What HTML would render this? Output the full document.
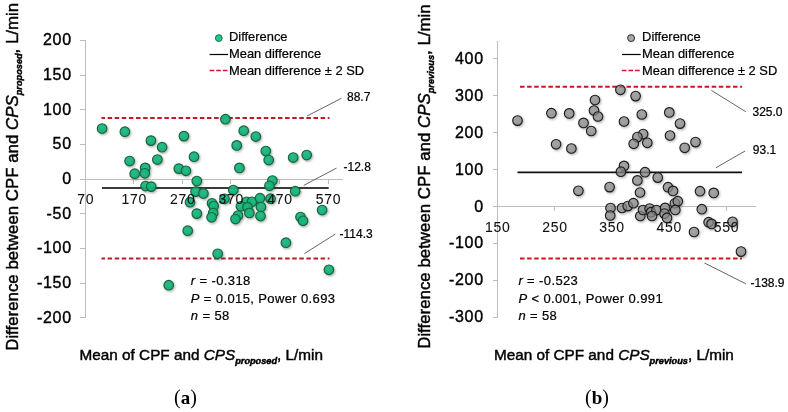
<!DOCTYPE html>
<html><head><meta charset="utf-8"><style>
html,body{margin:0;padding:0;background:#fff;}
body{width:788px;height:412px;overflow:hidden;}
svg{display:block;filter:blur(0.35px);}
text{font-family:"Liberation Sans",sans-serif;fill:#000;stroke:#000;stroke-width:0.22px;}
.serif{font-family:"Liberation Serif",serif;}
text.serif{stroke:none;}
text.t{stroke-width:0.45px;}
.yl text{stroke-width:0.4px;}
.xl text{fill:#111;stroke:#111;stroke-width:0.08px;}
</style></head><body>
<svg width="788" height="412" viewBox="0 0 788 412">
<defs>
<filter id="sh" x="-50%" y="-50%" width="200%" height="200%">
<feDropShadow dx="1" dy="1.2" stdDeviation="0.8" flood-color="#000" flood-opacity="0.35"/>
</filter>
<radialGradient id="gg" cx="0.45" cy="0.4" r="0.6"><stop offset="0" stop-color="#18bb86"/><stop offset="1" stop-color="#0faa74"/></radialGradient>
<radialGradient id="gr" cx="0.45" cy="0.4" r="0.6"><stop offset="0" stop-color="#909090"/><stop offset="1" stop-color="#7c7c7c"/></radialGradient>
</defs>

<g stroke="#bdbdbd" stroke-width="1" fill="none" shape-rendering="crispEdges">
<line x1="85.5" y1="40.5" x2="85.5" y2="318"/>
<line x1="80" y1="40.5" x2="85.5" y2="40.5"/>
<line x1="80" y1="75.5" x2="85.5" y2="75.5"/>
<line x1="80" y1="109.5" x2="85.5" y2="109.5"/>
<line x1="80" y1="144.5" x2="85.5" y2="144.5"/>
<line x1="80" y1="179.5" x2="85.5" y2="179.5"/>
<line x1="80" y1="213.5" x2="85.5" y2="213.5"/>
<line x1="80" y1="248.5" x2="85.5" y2="248.5"/>
<line x1="80" y1="283.5" x2="85.5" y2="283.5"/>
<line x1="80" y1="317.5" x2="85.5" y2="317.5"/>
<line x1="80" y1="179.5" x2="342.5" y2="179.5"/>
<line x1="133.5" y1="179.5" x2="133.5" y2="184"/>
<line x1="182.5" y1="179.5" x2="182.5" y2="184"/>
<line x1="230.5" y1="179.5" x2="230.5" y2="184"/>
<line x1="279.5" y1="179.5" x2="279.5" y2="184"/>
<line x1="328.5" y1="179.5" x2="328.5" y2="184"/>
</g>
<g font-size="16" text-anchor="end" letter-spacing="0.7" class="yl">
<text x="71.8" y="45.4">200</text>
<text x="71.8" y="80.1">150</text>
<text x="71.8" y="114.8">100</text>
<text x="71.8" y="149.4">50</text>
<text x="71.8" y="184.1">0</text>
<text x="71.8" y="218.8">-50</text>
<text x="71.8" y="253.4">-100</text>
<text x="71.8" y="288.1">-150</text>
<text x="71.8" y="322.8">-200</text>
</g>
<line x1="101.5" y1="117.9" x2="329.5" y2="117.9" stroke="#c01a28" stroke-width="2" stroke-dasharray="4.5 2.6" stroke-dashoffset="1"/>
<line x1="101.5" y1="258.6" x2="329.5" y2="258.6" stroke="#c01a28" stroke-width="2" stroke-dasharray="4.5 2.6" stroke-dashoffset="1"/>
<line x1="102" y1="187.9" x2="328.7" y2="187.9" stroke="#3a3a3a" stroke-width="2"/>
<g filter="url(#sh)" fill="url(#gg)" fill-opacity="0.92" stroke="#1b6238" stroke-width="1.15">
<circle cx="102.1" cy="128.5" r="4.8"/>
<circle cx="124.9" cy="131.7" r="4.8"/>
<circle cx="150.9" cy="140.6" r="4.8"/>
<circle cx="162.1" cy="147.2" r="4.8"/>
<circle cx="183.9" cy="136.1" r="4.8"/>
<circle cx="129.6" cy="161" r="4.8"/>
<circle cx="157.4" cy="159.5" r="4.8"/>
<circle cx="225.4" cy="119.2" r="4.8"/>
<circle cx="243.7" cy="130.7" r="4.8"/>
<circle cx="255.8" cy="136.5" r="4.8"/>
<circle cx="236.7" cy="145.4" r="4.8"/>
<circle cx="265.8" cy="151" r="4.8"/>
<circle cx="268.7" cy="160" r="4.8"/>
<circle cx="194" cy="156.7" r="4.8"/>
<circle cx="293.2" cy="157.5" r="4.8"/>
<circle cx="306.7" cy="155" r="4.8"/>
<circle cx="145.2" cy="167.9" r="4.8"/>
<circle cx="134.7" cy="173.7" r="4.8"/>
<circle cx="144.8" cy="173.3" r="4.8"/>
<circle cx="178.8" cy="168.6" r="4.8"/>
<circle cx="185.9" cy="170.8" r="4.8"/>
<circle cx="145.6" cy="186" r="4.8"/>
<circle cx="151.2" cy="186.6" r="4.8"/>
<circle cx="196.8" cy="181" r="4.8"/>
<circle cx="239.4" cy="167.9" r="4.8"/>
<circle cx="272.4" cy="180.5" r="4.8"/>
<circle cx="269.5" cy="185.8" r="4.8"/>
<circle cx="195.6" cy="191.6" r="4.8"/>
<circle cx="203.4" cy="193.5" r="4.8"/>
<circle cx="190" cy="202.2" r="4.8"/>
<circle cx="233.3" cy="190" r="4.8"/>
<circle cx="224.5" cy="198.8" r="4.8"/>
<circle cx="212" cy="203.3" r="4.8"/>
<circle cx="213.7" cy="206" r="4.8"/>
<circle cx="196.8" cy="213.6" r="4.8"/>
<circle cx="246.5" cy="201.8" r="4.8"/>
<circle cx="252" cy="201.8" r="4.8"/>
<circle cx="260" cy="198.2" r="4.8"/>
<circle cx="270.5" cy="198.7" r="4.8"/>
<circle cx="261" cy="207" r="4.8"/>
<circle cx="240.9" cy="206.3" r="4.8"/>
<circle cx="247.5" cy="207.2" r="4.8"/>
<circle cx="213.2" cy="213" r="4.8"/>
<circle cx="211.6" cy="217.3" r="4.8"/>
<circle cx="238" cy="215.5" r="4.8"/>
<circle cx="235.5" cy="219" r="4.8"/>
<circle cx="249.4" cy="212.9" r="4.8"/>
<circle cx="260.5" cy="216" r="4.8"/>
<circle cx="295.2" cy="191.2" r="4.8"/>
<circle cx="322.1" cy="210" r="4.8"/>
<circle cx="300.5" cy="217" r="4.8"/>
<circle cx="303" cy="220.8" r="4.8"/>
<circle cx="285.9" cy="242.7" r="4.8"/>
<circle cx="187.7" cy="230.7" r="4.8"/>
<circle cx="217.7" cy="253.8" r="4.8"/>
<circle cx="168.7" cy="285.2" r="4.8"/>
<circle cx="328.9" cy="269.8" r="4.8"/>
</g>
<g font-size="14" text-anchor="middle" letter-spacing="0.7" class="xl">
<text x="85.7" y="203.5">70</text>
<text x="134.2" y="203.5">170</text>
<text x="182.8" y="203.5">270</text>
<text x="231.3" y="203.5">370</text>
<text x="279.9" y="203.5">470</text>
<text x="328.4" y="203.5">570</text>
</g>
<g stroke="#555" stroke-width="0.9">
<line x1="307.1" y1="116" x2="341.6" y2="98.2"/>
<line x1="303.7" y1="185.4" x2="336.5" y2="168.1"/>
<line x1="304.4" y1="253.6" x2="335.3" y2="234.1"/>
</g>
<g font-size="12">
<text x="347" y="101.2">88.7</text>
<text x="343.5" y="170.6">-12.8</text>
<text x="339.5" y="237.9">-114.3</text>
</g>
<circle cx="218.8" cy="38.1" r="3.4" fill="#1fca8f" stroke="#1b6238" stroke-width="0.9"/>
<line x1="209.6" y1="54.5" x2="228.1" y2="54.5" stroke="#000" stroke-width="1.2"/>
<line x1="209.6" y1="70.4" x2="228.1" y2="70.4" stroke="#d8142e" stroke-width="1.5" stroke-dasharray="4.7 1.9"/>
<g font-size="12.9">
<text x="229" y="41.4">Difference</text>
<text x="229" y="58.4">Mean difference</text>
<text x="229" y="74.8">Mean difference ± 2 SD</text>
</g>
<g font-size="13" letter-spacing="0.38">
<text x="190.8" y="285.2"><tspan font-style="italic">r</tspan> = -0.318</text>
<text x="190.8" y="302.6"><tspan font-style="italic">P</tspan> = 0.015, Power 0.693</text>
<text x="190.8" y="320.3"><tspan font-style="italic">n</tspan> = 58</text>
</g>
<text class="t" x="79.6" y="359.8" font-size="15.3">Mean of CPF and <tspan font-style="italic">CPS</tspan><tspan font-size="9.2" font-weight="bold" font-style="italic" dy="3.9">proposed</tspan><tspan dy="-3.9">, L/min</tspan></text>
<text class="t" transform="translate(18,350.8) rotate(-90)" font-size="16.88">Difference between CPF and <tspan font-style="italic">CPS</tspan><tspan font-size="9.2" font-weight="bold" font-style="italic" dy="3.6">proposed</tspan><tspan dy="-3.6">, L/min</tspan></text>
<text class="serif" x="174" y="403.6" font-size="20">(<tspan font-weight="bold" font-size="19">a</tspan>)</text>
<g stroke="#bdbdbd" stroke-width="1" fill="none" shape-rendering="crispEdges">
<line x1="497.5" y1="40.5" x2="497.5" y2="318"/>
<line x1="492.5" y1="58.5" x2="497.5" y2="58.5"/>
<line x1="492.5" y1="95.5" x2="497.5" y2="95.5"/>
<line x1="492.5" y1="132.5" x2="497.5" y2="132.5"/>
<line x1="492.5" y1="169.5" x2="497.5" y2="169.5"/>
<line x1="492.5" y1="206.5" x2="497.5" y2="206.5"/>
<line x1="492.5" y1="243.5" x2="497.5" y2="243.5"/>
<line x1="492.5" y1="280.5" x2="497.5" y2="280.5"/>
<line x1="492.5" y1="317.5" x2="497.5" y2="317.5"/>
<line x1="492.5" y1="206.5" x2="755.5" y2="206.5"/>
<line x1="554.5" y1="206.5" x2="554.5" y2="211"/>
<line x1="611.5" y1="206.5" x2="611.5" y2="211"/>
<line x1="668.5" y1="206.5" x2="668.5" y2="211"/>
<line x1="726.5" y1="206.5" x2="726.5" y2="211"/>
</g>
<g font-size="16" text-anchor="end" letter-spacing="0.7" class="yl">
<text x="483.8" y="63.7">400</text>
<text x="483.8" y="100.6">300</text>
<text x="483.8" y="137.6">200</text>
<text x="483.8" y="174.6">100</text>
<text x="483.8" y="211.5">0</text>
<text x="483.8" y="248.4">-100</text>
<text x="483.8" y="285.4">-200</text>
<text x="483.8" y="322.3">-300</text>
</g>
<line x1="520" y1="86.8" x2="742" y2="86.8" stroke="#d0141c" stroke-width="2" stroke-dasharray="4.5 2.6"/>
<line x1="520" y1="258.4" x2="742" y2="258.4" stroke="#d0141c" stroke-width="2" stroke-dasharray="4.5 2.6"/>
<line x1="517.5" y1="172.4" x2="742" y2="172.4" stroke="#111" stroke-width="1.6"/>
<g filter="url(#sh)" fill="url(#gr)" fill-opacity="0.7" stroke="#1a1a1a" stroke-width="1.1">
<circle cx="517.5" cy="120.6" r="4.8"/>
<circle cx="551.4" cy="113.2" r="4.8"/>
<circle cx="569.2" cy="113.4" r="4.8"/>
<circle cx="595" cy="100" r="4.8"/>
<circle cx="594" cy="110.5" r="4.8"/>
<circle cx="598" cy="116.5" r="4.8"/>
<circle cx="583.5" cy="122.9" r="4.8"/>
<circle cx="591.2" cy="131" r="4.8"/>
<circle cx="620.4" cy="89.8" r="4.8"/>
<circle cx="635.6" cy="96.1" r="4.8"/>
<circle cx="641.8" cy="114.5" r="4.8"/>
<circle cx="624" cy="121.5" r="4.8"/>
<circle cx="669.3" cy="112.4" r="4.8"/>
<circle cx="680" cy="123.6" r="4.8"/>
<circle cx="643.1" cy="134.1" r="4.8"/>
<circle cx="670" cy="135.5" r="4.8"/>
<circle cx="556.1" cy="144.3" r="4.8"/>
<circle cx="571.4" cy="148.5" r="4.8"/>
<circle cx="637.4" cy="137.1" r="4.8"/>
<circle cx="633.7" cy="143.8" r="4.8"/>
<circle cx="647.3" cy="142.8" r="4.8"/>
<circle cx="624" cy="165.9" r="4.8"/>
<circle cx="620.9" cy="171.7" r="4.8"/>
<circle cx="645" cy="172.2" r="4.8"/>
<circle cx="657.7" cy="177.6" r="4.8"/>
<circle cx="637.4" cy="180.4" r="4.8"/>
<circle cx="695.5" cy="142.1" r="4.8"/>
<circle cx="684.7" cy="147.8" r="4.8"/>
<circle cx="578.4" cy="190.8" r="4.8"/>
<circle cx="609.6" cy="187.1" r="4.8"/>
<circle cx="640" cy="192.5" r="4.8"/>
<circle cx="668" cy="187.2" r="4.8"/>
<circle cx="673" cy="190.9" r="4.8"/>
<circle cx="610.5" cy="208" r="4.8"/>
<circle cx="610.2" cy="215.5" r="4.8"/>
<circle cx="622" cy="208" r="4.8"/>
<circle cx="627.7" cy="206.1" r="4.8"/>
<circle cx="633.4" cy="203.2" r="4.8"/>
<circle cx="640.3" cy="216" r="4.8"/>
<circle cx="643" cy="210" r="4.8"/>
<circle cx="649.6" cy="208.5" r="4.8"/>
<circle cx="651" cy="212.2" r="4.8"/>
<circle cx="656.5" cy="210.1" r="4.8"/>
<circle cx="652" cy="216" r="4.8"/>
<circle cx="665.1" cy="207.9" r="4.8"/>
<circle cx="664.5" cy="213.6" r="4.8"/>
<circle cx="667" cy="217.9" r="4.8"/>
<circle cx="674.9" cy="203.3" r="4.8"/>
<circle cx="677.8" cy="201.2" r="4.8"/>
<circle cx="675.3" cy="209.9" r="4.8"/>
<circle cx="700" cy="191.2" r="4.8"/>
<circle cx="701.8" cy="209.2" r="4.8"/>
<circle cx="713.7" cy="192.9" r="4.8"/>
<circle cx="708.6" cy="222.2" r="4.8"/>
<circle cx="694" cy="232" r="4.8"/>
<circle cx="711.6" cy="223.9" r="4.8"/>
<circle cx="732.5" cy="221.8" r="4.8"/>
<circle cx="741" cy="251.6" r="4.8"/>
</g>
<g font-size="14" text-anchor="middle" letter-spacing="0.7" class="xl">
<text x="497.7" y="231.5">150</text>
<text x="554.9" y="231.5">250</text>
<text x="612.1" y="231.5">350</text>
<text x="669.2" y="231.5">450</text>
<text x="726.4" y="231.5">550</text>
</g>
<g stroke="#555" stroke-width="0.9">
<line x1="711.4" y1="90.4" x2="745.9" y2="111.8"/>
<line x1="715.8" y1="167.8" x2="745.1" y2="151"/>
<line x1="704.5" y1="263" x2="745.8" y2="283.8"/>
</g>
<g font-size="12">
<text x="752.5" y="116">325.0</text>
<text x="752.8" y="154.1">93.1</text>
<text x="750.5" y="286.8">-138.9</text>
</g>
<circle cx="631.1" cy="38.1" r="3.5" fill="#a8a8a8" stroke="#1a1a1a" stroke-width="0.9"/>
<line x1="622" y1="54.5" x2="640.7" y2="54.5" stroke="#000" stroke-width="1.2"/>
<line x1="621.8" y1="70.4" x2="640.5" y2="70.4" stroke="#d8142e" stroke-width="1.5" stroke-dasharray="4.7 1.9"/>
<g font-size="12.9">
<text x="642.1" y="41.4">Difference</text>
<text x="642.1" y="58.4">Mean difference</text>
<text x="642.1" y="74.8">Mean difference ± 2 SD</text>
</g>
<g font-size="13" letter-spacing="0.38">
<text x="518.4" y="285.1"><tspan font-style="italic">r</tspan> = -0.523</text>
<text x="518.4" y="302.6"><tspan font-style="italic">P</tspan> &lt; 0.001, Power 0.991</text>
<text x="518.4" y="320.3"><tspan font-style="italic">n</tspan> = 58</text>
</g>
<text class="t" x="494" y="360.4" font-size="15.3">Mean of CPF and <tspan font-style="italic">CPS</tspan><tspan font-size="9.2" font-weight="bold" font-style="italic" dy="3.9">previous</tspan><tspan dy="-3.9">, L/min</tspan></text>
<text class="t" transform="translate(430,348.8) rotate(-90)" font-size="16.88">Difference between CPF and <tspan font-style="italic">CPS</tspan><tspan font-size="9.2" font-weight="bold" font-style="italic" dy="3.6">previous</tspan><tspan dy="-3.6">, L/min</tspan></text>
<text class="serif" x="585" y="403.6" font-size="20">(<tspan font-weight="bold" font-size="19">b</tspan>)</text>
</svg></body></html>
